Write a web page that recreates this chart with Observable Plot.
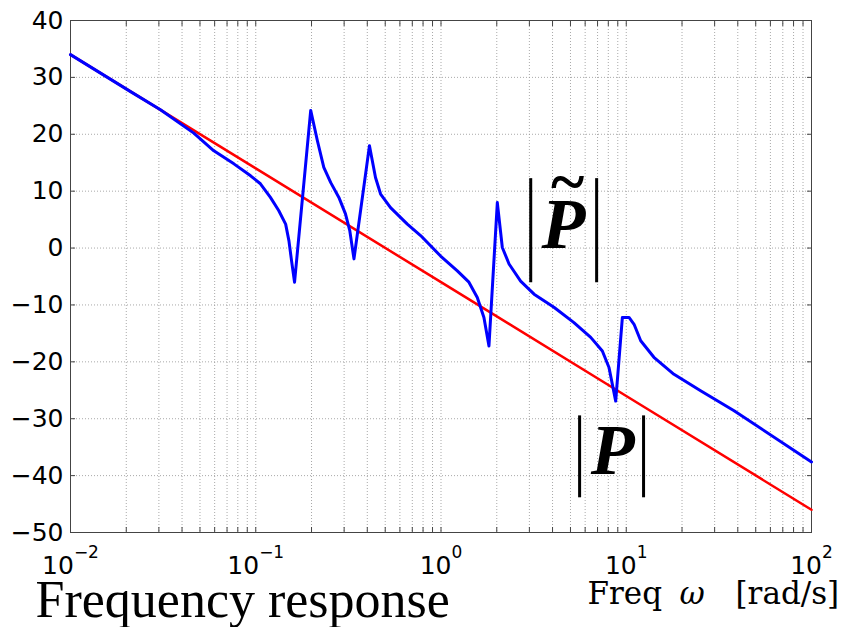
<!DOCTYPE html>
<html>
<head>
<meta charset="utf-8">
<script src="https://cdn.jsdelivr.net/npm/d3@7"></script>
<script src="https://cdn.jsdelivr.net/npm/@observablehq/plot@0.6"></script>
<style>
  body { margin: 0; background: #fff; }
  svg { display: block; }
</style>
</head>
<body>
<div id="chart"></div>
<script>
// Nominal plant |P| (dB) at decade frequencies
const omegaNominal = [0.01, 0.1, 1, 10, 100];
const gainNominal = [34.0, 14.0, -6.0, -26.0, -46.0];

// Perturbed plant |P~| (dB) with its resonance / anti-resonance pairs
const omegaPerturbed = [
  0.01, 0.0211, 0.0306, 0.0463, 0.0594, 0.0762, 0.0938, 0.106, 0.120, 0.133, 0.145, 0.151, 0.156, 0.162,
  0.198, 0.215, 0.233, 0.254, 0.281, 0.305, 0.322, 0.339,
  0.411, 0.443, 0.472, 0.534, 0.658, 0.776, 0.995, 1.225, 1.415, 1.570, 1.705, 1.815,
  2.014, 2.143, 2.33, 2.69, 3.18, 4.07, 5.22, 6.43, 7.43, 8.07, 8.77,
  9.53, 10.35, 11.02, 11.97, 14.1, 18.1, 25.2, 38.2, 100
];
const gainPerturbed = [
  34.0, 27.5, 24.3, 20.2, 17.1, 14.8, 12.7, 11.3, 8.9, 6.6, 4.2, 1.3, -2.2, -6.0,
  24.2, 18.9, 14.2, 11.5, 8.9, 6.0, 3.0, -1.9,
  18.0, 12.4, 9.5, 7.1, 4.2, 2.2, -1.4, -4.0, -6.0, -8.7, -12.2, -17.2,
  8.0, 0.1, -2.8, -5.8, -8.1, -10.4, -13.1, -15.7, -18.1, -21.0, -26.9,
  -12.2, -12.2, -13.4, -16.3, -19.2, -22.2, -25.1, -28.6, -37.6
];

// Axis ticks
const xMajorTicks = [0.01, 0.1, 1, 10, 100];
const yTicks = [-50, -40, -30, -20, -10, 0, 10, 20, 30, 40];
const xGridTicks = [0.01, 0.1, 1, 10].flatMap(d => [1, 2, 3, 4, 5, 6, 7, 8, 9].map(k => k * d)).concat([100]);

// Curve labels: |P~| and |P|
const labelOmega = [4.59, 8.45];
const labelGain = [0.0, -39.7];
const tildeOmega = [4.83];
const tildeGain = [11.6];
const barOmega = [3.05, 6.92, 5.60, 12.4];
const barTop = [12.2, 12.2, -29.5, -29.5];
const barBottom = [-6.1, -6.1, -43.9, -43.9];

const nominal = omegaNominal.map((w, i) => ({w, g: gainNominal[i]}));
const perturbed = omegaPerturbed.map((w, i) => ({w, g: gainPerturbed[i]}));
const labels = labelOmega.map((w, i) => ({w, g: labelGain[i]}));
const tildes = tildeOmega.map((w, i) => ({w, g: tildeGain[i]}));
const bars = barOmega.map((w, i) => ({w, top: barTop[i], bottom: barBottom[i]}));

const minus = "\u2212";
const expText = d => {
  const e = Math.round(Math.log10(d));
  return e < 0 ? minus + (-e) : String(e);
};

const gridStyle = {stroke: "#9a9a9a", strokeOpacity: 0.85, strokeDasharray: "1,2", strokeWidth: 1};
const inwardTick = {tickSize: -5, tickFormat: () => "", label: null, stroke: "#444"};

const chart = Plot.plot({
  width: 853,
  height: 627,
  marginLeft: 70,
  marginRight: 42,
  marginTop: 20,
  marginBottom: 95,
  x: {type: "log", domain: [0.01, 100]},
  y: {domain: [-50, 40]},
  style: {fontFamily: "DejaVu Sans", fontSize: "25px", color: "#000", background: "#fff"},
  marks: [
    Plot.gridX(xGridTicks, gridStyle),
    Plot.gridY(yTicks, gridStyle),
    Plot.axisX(xGridTicks, {anchor: "bottom", ...inwardTick}),
    Plot.axisX(xGridTicks, {anchor: "top", ...inwardTick}),
    Plot.axisY(yTicks, {anchor: "left", ...inwardTick}),
    Plot.axisY(yTicks, {anchor: "right", ...inwardTick}),
    Plot.axisX(xMajorTicks, {anchor: "bottom", tickSize: 0, tickPadding: 24, tickFormat: expText, label: null, fontSize: 25}),
    Plot.axisY(yTicks, {anchor: "left", tickSize: 0, tickPadding: 7, label: null, fontSize: 25}),
    Plot.frame({stroke: "#444", strokeWidth: 1}),
    Plot.line(nominal, {x: "w", y: "g", stroke: "#ff0000", strokeWidth: 2.5}),
    Plot.line(perturbed, {x: "w", y: "g", stroke: "#0000ff", strokeWidth: 3, strokeLinejoin: "round"}),
    Plot.ruleX(bars, {x: "w", y1: "bottom", y2: "top", stroke: "#000", strokeWidth: 3}),
    Plot.text(labels, {x: "w", y: "g", text: () => "P", textAnchor: "middle", lineAnchor: "bottom",
      fontFamily: "Liberation Serif", fontStyle: "italic", fontWeight: "bold", fontSize: 72, fill: "#000"}),
    Plot.text(tildes, {x: "w", y: "g", text: () => "~", textAnchor: "middle", lineAnchor: "middle",
      fontFamily: "Liberation Serif", fontWeight: "bold", fontSize: 64, fill: "#000"}),
    Plot.text(["Frequency response"], {frameAnchor: "bottom-left", text: d => d, textAnchor: "start",
      lineAnchor: "bottom", dx: -35, dy: 84, fontFamily: "Liberation Serif", fontSize: 52, fill: "#000"}),
    Plot.text(["Freq"], {frameAnchor: "bottom-left", text: d => d, textAnchor: "start",
      lineAnchor: "bottom", dx: 517, dy: 71, fontFamily: "DejaVu Serif", fontSize: 31, fill: "#000"}),
    Plot.text(["\u03c9"], {frameAnchor: "bottom-left", text: d => d, textAnchor: "start",
      lineAnchor: "bottom", dx: 609, dy: 71, fontFamily: "DejaVu Serif", fontStyle: "italic", fontSize: 31, fill: "#000"}),
    Plot.text(["[rad/s]"], {frameAnchor: "bottom-left", text: d => d, textAnchor: "start",
      lineAnchor: "bottom", dx: 665, dy: 71, fontFamily: "DejaVu Serif", fontSize: 31, fill: "#000"})
  ]
});

// Decade labels rendered as 10 with a raised exponent
d3.select(chart).selectAll('g[aria-label="x-axis tick label"] text').each(function () {
  const exp = this.textContent;
  if (!exp) return;
  const t = d3.select(this);
  t.text(null);
  t.append("tspan").text("10");
  t.append("tspan").attr("dy", -16).attr("font-size", 17).text(exp);
});

document.getElementById("chart").appendChild(chart);
</script>
</body>
</html>
